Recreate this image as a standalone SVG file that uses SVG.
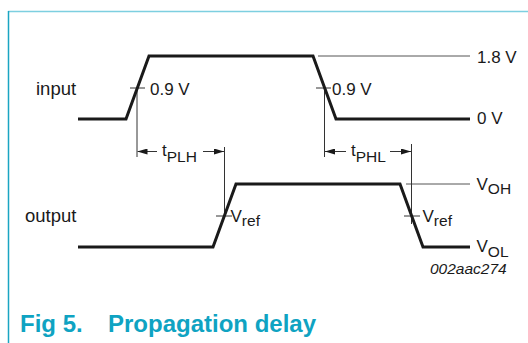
<svg xmlns="http://www.w3.org/2000/svg" width="528" height="343" viewBox="0 0 528 343">
<defs>
<style>
.wave{fill:none;stroke:#1a1a1a;stroke-width:3;stroke-linejoin:miter}
.thin{fill:none;stroke:#333;stroke-width:1}
.ref{fill:none;stroke:#555;stroke-width:1}
.lbl{font-family:"Liberation Sans",Arial,sans-serif;font-size:17px;fill:#1a1a1a}
.big{font-size:18.5px}
.sub{font-size:15.5px}
.code{font-family:"Liberation Sans",Arial,sans-serif;font-size:15.5px;font-style:italic;fill:#1a1a1a}
.title{font-family:"Liberation Sans",Arial,sans-serif;font-size:24px;font-weight:bold;fill:#0fa3c2}
</style>
<marker id="ah" viewBox="0 0 10 6" refX="10" refY="3" markerWidth="10" markerHeight="6" markerUnits="userSpaceOnUse" orient="auto">
<path d="M0,0 L10,3 L0,6 Z" fill="#1a1a1a"/>
</marker>
</defs>
<rect width="528" height="343" fill="#fff"/>
<g id="frame">
<line x1="8" y1="11.5" x2="528" y2="11.5" stroke="#7dcfe0" stroke-width="1.5"/>
<line x1="8.5" y1="11" x2="8.5" y2="343" stroke="#1aa5c2" stroke-width="1.5"/>
</g>
<g id="connectors">
<line class="ref" x1="318" y1="56" x2="470" y2="56"/>
<line class="ref" x1="406" y1="184" x2="470" y2="184"/>
<line class="thin" x1="130" y1="88" x2="145" y2="88"/>
<line class="thin" x1="316" y1="88" x2="331" y2="88"/>
<line class="thin" x1="216" y1="216" x2="232" y2="216"/>
<line class="thin" x1="404" y1="216" x2="420" y2="216"/>
<line class="thin" x1="137" y1="88" x2="137" y2="157"/>
<line class="thin" x1="224.5" y1="147" x2="224.5" y2="218"/>
<line class="thin" x1="324.5" y1="88" x2="324.5" y2="157"/>
<line class="thin" x1="411.5" y1="144" x2="411.5" y2="224"/>
<line class="thin" x1="157" y1="151.5" x2="137.5" y2="151.5" marker-end="url(#ah)"/>
<line class="thin" x1="203" y1="151.5" x2="224" y2="151.5" marker-end="url(#ah)"/>
<line class="thin" x1="346" y1="151.5" x2="325" y2="151.5" marker-end="url(#ah)"/>
<line class="thin" x1="390" y1="151.5" x2="411" y2="151.5" marker-end="url(#ah)"/>
</g>
<g id="input">
<polyline class="wave" points="78,119 126,119 149,56 313,56 336,119 470,119"/>
<text class="lbl big" x="36" y="95">input</text>
</g>
<g id="output">
<polyline class="wave" points="78,247 213,247 236,184 400,184 423,247 470,247"/>
<text class="lbl big" x="25" y="222">output</text>
</g>
<g id="labels">
<text class="lbl" x="150" y="95">0.9 V</text>
<text class="lbl" x="332" y="95">0.9 V</text>
<text class="lbl" x="477" y="63">1.8 V</text>
<text class="lbl" x="477" y="124">0 V</text>
<text class="lbl" x="162" y="156">t<tspan class="sub" dy="6">PLH</tspan></text>
<text class="lbl" x="351" y="156">t<tspan class="sub" dy="6">PHL</tspan></text>
<text class="lbl" x="230.5" y="222">V<tspan class="sub" dy="3.5">ref</tspan></text>
<text class="lbl" x="422.5" y="222">V<tspan class="sub" dy="3.5">ref</tspan></text>
<text class="lbl" x="476.5" y="190">V<tspan class="sub" dy="3.5">OH</tspan></text>
<text class="lbl" x="476.5" y="252">V<tspan class="sub" dy="4.5">OL</tspan></text>
<text class="code" x="430" y="274">002aac274</text>
</g>
<g id="caption">
<text class="title" x="20" y="332">Fig 5.</text>
<text class="title" x="108" y="332">Propagation delay</text>
</g>
</svg>
